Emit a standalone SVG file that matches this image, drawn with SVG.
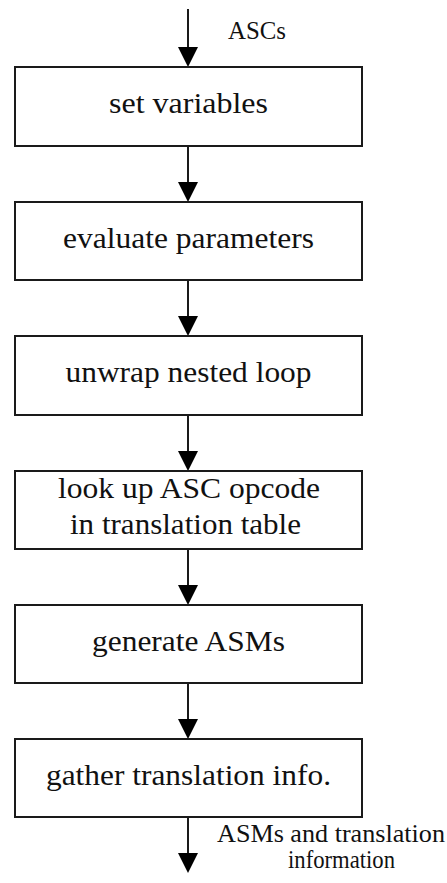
<svg xmlns="http://www.w3.org/2000/svg" width="447" height="883" viewBox="0 0 447 883">
  <style>
    .box { fill: #ffffff; stroke: #1a1a1a; stroke-width: 2; }
    .step { font-family: "Liberation Serif", "Times New Roman", serif; font-size: 30px; fill: #111111; text-anchor: middle; }
    .lbl { font-family: "Liberation Serif", "Times New Roman", serif; font-size: 25px; fill: #111111; }
    .flow { stroke: #1a1a1a; stroke-width: 2; fill: none; marker-end: url(#head); }
  </style>
  <defs>
    <marker id="head" markerUnits="userSpaceOnUse" markerWidth="20" markerHeight="20" viewBox="0 0 20 20" refX="10" refY="10" orient="auto">
      <path d="M0,0 L20,10 L0,20 Z" fill="#000000"/>
    </marker>
  </defs>
  <rect width="447" height="883" fill="#ffffff"/>

  <!-- connectors: each line stops halfway into its arrowhead -->
  <g id="connectors">
    <line class="flow" x1="188" y1="9" x2="188" y2="57"/>
    <line class="flow" x1="188" y1="146" x2="188" y2="192"/>
    <line class="flow" x1="188" y1="280" x2="188" y2="326"/>
    <line class="flow" x1="188" y1="415" x2="188" y2="461"/>
    <line class="flow" x1="188" y1="549" x2="188" y2="595"/>
    <line class="flow" x1="188" y1="683" x2="188" y2="729"/>
    <line class="flow" x1="188" y1="817" x2="188" y2="863"/>
    <text class="lbl" x="228" y="39" textLength="58" lengthAdjust="spacingAndGlyphs">ASCs</text>
    <text class="lbl" x="217" y="842" textLength="228" lengthAdjust="spacingAndGlyphs">ASMs and translation</text>
    <text class="lbl" x="288" y="868" textLength="107" lengthAdjust="spacingAndGlyphs">information</text>
  </g>

  <g id="set-variables">
    <rect class="box" x="15" y="67" width="347" height="79"/>
    <text class="step" x="188.5" y="113" textLength="159" lengthAdjust="spacingAndGlyphs">set variables</text>
  </g>
  <g id="evaluate-parameters">
    <rect class="box" x="15" y="202" width="347" height="78"/>
    <text class="step" x="188.5" y="248" textLength="251" lengthAdjust="spacingAndGlyphs">evaluate parameters</text>
  </g>
  <g id="unwrap-nested-loop">
    <rect class="box" x="15" y="336" width="347" height="79"/>
    <text class="step" x="188.5" y="382" textLength="246" lengthAdjust="spacingAndGlyphs">unwrap nested loop</text>
  </g>
  <g id="look-up-opcode">
    <rect class="box" x="15" y="471" width="347" height="78"/>
    <text class="step" x="189" y="498" textLength="262" lengthAdjust="spacingAndGlyphs">look up ASC opcode</text>
    <text class="step" x="185.5" y="534" textLength="231" lengthAdjust="spacingAndGlyphs">in translation table</text>
  </g>
  <g id="generate-asms">
    <rect class="box" x="15" y="605" width="347" height="78"/>
    <text class="step" x="188.5" y="651" textLength="193" lengthAdjust="spacingAndGlyphs">generate ASMs</text>
  </g>
  <g id="gather-translation-info">
    <rect class="box" x="15" y="739" width="347" height="78"/>
    <text class="step" x="188.5" y="785" textLength="285" lengthAdjust="spacingAndGlyphs">gather translation info.</text>
  </g>
</svg>
